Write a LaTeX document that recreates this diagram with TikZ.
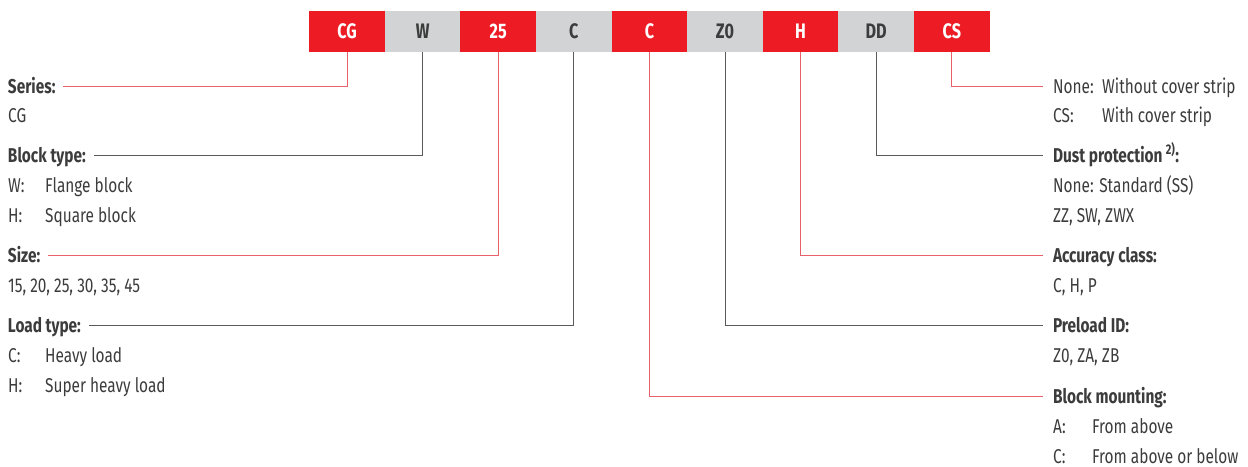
\documentclass[tikz,border=0pt]{standalone}
\usepackage{fontspec}
\setmainfont{Fira Sans}[FakeStretch=0.77]
\usetikzlibrary{positioning}
\definecolor{codered}{HTML}{ED1C24}
\definecolor{codegray}{HTML}{D1D3D4}
\definecolor{linered}{HTML}{E8606A}
\definecolor{linegray}{HTML}{5A5A5A}
\definecolor{txtgray}{HTML}{3C3C3C}
\newcommand{\opt}[3][37pt]{\makebox[#1][l]{#2}#3}
\tikzset{
    codebox/.style={minimum width=75.6pt, minimum height=41pt, inner sep=0pt,
        font=\bfseries\fontsize{21}{21}\selectfont},
    head/.style={inner sep=0pt, text height=14pt, text depth=0pt, text=txtgray,
        font=\bfseries\fontsize{20}{20}\selectfont},
    lhead/.style={head, anchor=west, outer xsep=8pt},
    rhead/.style={head, anchor=west, outer xsep=10pt},
    item/.style={inner sep=0pt, text height=14pt, text depth=0pt, anchor=west,
        text=txtgray, font=\fontsize{20}{20}\selectfont},
    redline/.style={draw=linered, line width=1pt},
    grayline/.style={draw=linegray, line width=1pt},
}
\begin{document}
\begin{tikzpicture}[x=1pt, y=-1pt]
    \useasboundingbox (0,0) rectangle (1248,466);
    % code boxes
    \foreach \lab/\bg/\fg [count=\i] in {CG/codered/white, W/codegray/txtgray,
        25/codered/white, C/codegray/txtgray, C/codered/white, Z0/codegray/txtgray,
        H/codered/white, DD/codegray/txtgray, CS/codered/white}
        \node[codebox, fill=\bg, text=\fg] (b\i) at ({347+(\i-1)*75.6}, 31.5) {\lab};

    % left side (heads sit 8pt left, their outer sep puts the text at 8)
    \node[lhead] (series) at (0,86) {Series:};
    \node[item] (seriesa) at (8,115) {CG};
    \node[lhead] (block) at (0,155) {Block type:};
    \node[item] (blocka) at (8,185) {\opt{W:}{Flange block}};
    \node[item] (blockb) at (8,215) {\opt{H:}{Square block}};
    \node[lhead] (size) at (0,255) {Size:};
    \node[item] (sizea) at (8,285) {15, 20, 25, 30, 35, 45};
    \node[lhead] (load) at (0,325) {Load type:};
    \node[item] (loada) at (8,355) {\opt{C:}{Heavy load}};
    \node[item] (loadb) at (8,385) {\opt{H:}{Super heavy load}};

    % right side
    \node[item] (stripa) at (1053,86) {\opt[49pt]{None:}{Without cover strip}};
    \coordinate (strip) at ([xshift=-10pt]stripa.west);
    \node[item] (stripb) at (1053,115) {\opt[49pt]{CS:}{With cover strip}};
    \node[rhead] (dust) at (1043,155) {Dust protection\,\textsuperscript{2)}:};
    \node[item] (dusta) at (1053,185) {None: Standard (SS)};
    \node[item] (dustb) at (1053,215) {ZZ, SW, ZWX};
    \node[rhead] (accuracy) at (1043,255) {Accuracy class:};
    \node[item] (accuracya) at (1053,285) {C, H, P};
    \node[rhead] (preload) at (1043,325) {Preload ID:};
    \node[item] (preloada) at (1053,355) {Z0, ZA, ZB};
    \node[rhead] (mounting) at (1043,396) {Block mounting:};
    \node[item] (mountinga) at (1053,426) {\opt[39pt]{A:}{From above}};
    \node[item] (mountingb) at (1053,456) {\opt[39pt]{C:}{From above or below}};

    % connectors
    \draw[redline] (b1.south) |- (series.east);
    \draw[grayline] (b2.south) |- (block.east);
    \draw[redline] (b3.south) |- (size.east);
    \draw[grayline] (b4.south) |- (load.east);
    \draw[redline] (b5.south) |- (mounting.west);
    \draw[grayline] (b6.south) |- (preload.west);
    \draw[redline] (b7.south) |- (accuracy.west);
    \draw[grayline] (b8.south) |- (dust.west);
    \draw[redline] (b9.south) |- (strip);
\end{tikzpicture}
\end{document}
